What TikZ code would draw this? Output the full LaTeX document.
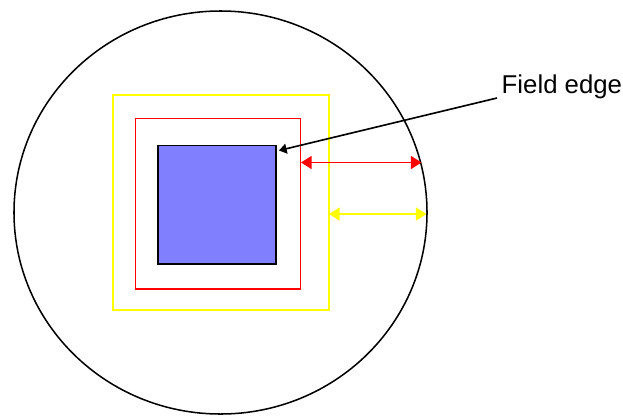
\documentclass[tikz,border=0pt]{standalone}
\usepackage{fontspec}
\setmainfont{Liberation Sans}
\usepackage{xcolor}
\definecolor{fldblue}{RGB}{128,128,255}
\definecolor{fldred}{RGB}{255,0,0}
\definecolor{fldyellow}{RGB}{255,255,0}
\usetikzlibrary{arrows.meta,positioning,shapes.geometric}
\tikzset{
  sqbox/.style={draw,line width=1.4pt,inner sep=0pt,outer sep=0pt},
  gap/.style={{Triangle[length=9pt,width=11pt]}-{Triangle[length=9pt,width=11pt]},line width=1.4pt},
  lead/.style={-{Triangle[length=6.5pt,width=8.5pt]},line width=1.4pt,black}
}
\begin{document}
\begin{tikzpicture}[x=0.03cm,y=-0.03cm]
  \useasboundingbox (0,0) rectangle (623,415);
  % patient outline
  \node[draw,ellipse,line width=1.3pt,inner sep=0pt,outer sep=0pt,
        minimum width=12.39cm,minimum height=12.09cm] (body) at (220.5,212.5) {};
  % field squares
  \node[sqbox,fldyellow,minimum width=6.48cm,minimum height=6.45cm] (yel) at (220.7,202.7) {};
  \node[sqbox,fldred,minimum width=4.96cm,minimum height=5.12cm] (red) at (218,203.7) {};
  \node[sqbox,fill=fldblue,minimum width=3.55cm,minimum height=3.56cm] (tgt) at (216.9,204.7) {};
  % label
  \node[anchor=base west,inner sep=0pt,font=\fontsize{22}{26}\selectfont] (lab) at (501.5,93) {Field edge};
  \coordinate (leadA) at (497,98);
  \coordinate (leadB) at (279,150.5);
  \draw[lead] (leadA) -- (leadB);
  % margins
  \coordinate (redL) at (301,162.5);
  \coordinate (redR) at (421.5,162.5);
  \coordinate (yelL) at (329,214);
  \coordinate (yelR) at (426.5,214);
  \draw[gap,fldred] (redL) -- (redR);
  \draw[gap,fldyellow] (yelL) -- (yelR);
\end{tikzpicture}
\end{document}
